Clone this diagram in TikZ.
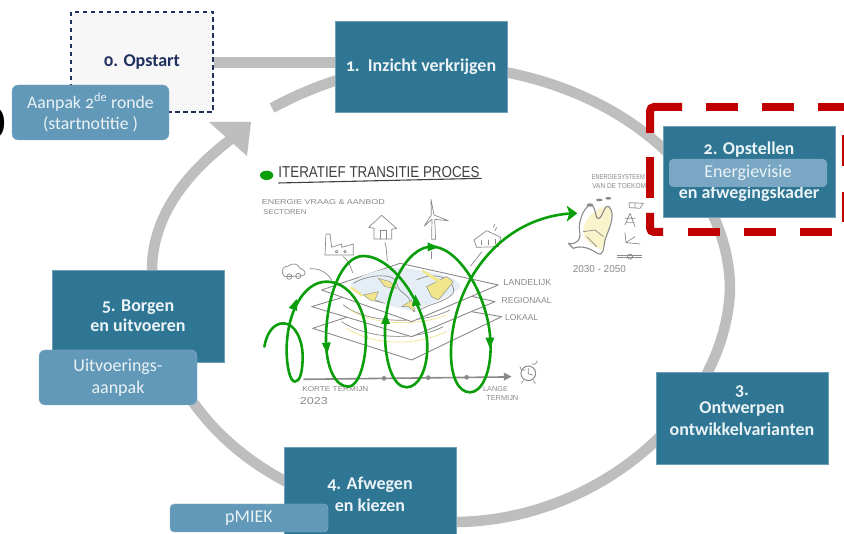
\documentclass[tikz,border=0pt]{standalone}
\usepackage{fontspec}
\usepackage{graphicx}
\setmainfont[Numbers=OldStyle]{Carlito}
\newfontfamily\handf{Liberation Sans}
\definecolor{boxc}{HTML}{2F7694}
\definecolor{pillc}{HTML}{6298B8}
\definecolor{ringc}{HTML}{BEBEBE}
\definecolor{greenc}{HTML}{0A9E0A}
\definecolor{navyc}{HTML}{1F2F5E}
\definecolor{redc}{HTML}{C00000}
\definecolor{sk}{HTML}{8A8A8A}
\definecolor{txtc}{HTML}{EAF3F6}
\definecolor{yel}{HTML}{F2E68C}
\definecolor{bluef}{HTML}{E6EEF5}
\tikzset{
  stepbox/.style={fill=boxc,draw=boxc!70!white,line width=.5pt,text=txtc,font=\fontsize{18}{22}\selectfont\bfseries,align=center,inner sep=0pt},
  pillbox/.style={fill=pillc,draw=pillc!70!white,line width=.4pt,rounded corners=6pt,text=txtc,font=\fontsize{18}{22}\selectfont,align=center,inner sep=0pt},
  ringline/.style={draw=ringc,line width=10.5pt},
  sketch/.style={draw=sk,line width=.7pt,line join=round,line cap=round},
  plane/.style={draw=sk,line width=.9pt,fill=white,line join=round},
  handtext/.style={inner sep=0pt,text=sk,font=\handf},
  spiral/.style={draw=greenc,line width=2.6pt,line cap=round},
  reddash/.style={draw=redc,line width=8pt},
}
\newcommand\htxt[6]{\node[handtext] (#1) at (#2,#3) {\resizebox{#4pt}{#5pt}{#6}};}
\newcommand\gtri[3]{\fill[greenc,shift={(#1,#2)},rotate=#3] (7pt,0pt)--(-4pt,4.5pt)--(-4pt,-4.5pt)--cycle;}
\begin{document}
\begin{tikzpicture}[x=1pt,y=-1pt]
\useasboundingbox (0,0) rectangle (844,534);
\fill[white] (0,0) rectangle (844,534);
% cut-off digit at the left edge
\node[inner sep=0pt,text=black,font=\fontsize{48}{48}\selectfont\addfontfeature{Numbers=Lining}] (zero) at (-6,123) {0};
% ring
\draw[ringline] (272,108) .. controls (320,82) and (375,65) .. (430,65)
  .. controls (596,65) and (730,166) .. (730,290)
  .. controls (725,410) and (600,520) .. (457,522)
  .. controls (300,522) and (152,430) .. (152,270)
  .. controls (152,210) and (195,165) .. (238,134);
\fill[ringc] (251,122) -- (209,122) -- (247,156) -- cycle;
% sketch, coordinates from the enlarged crop
\begin{scope}[shift={(230,140)},x=.3333pt,y=-.3333pt]
  \fill[greenc] (110,106) ellipse (20 and 14);
  \draw[draw=black!75,line width=1.1pt] (145,129) -- (755,115);
  \htxt{title}{447}{97}{201}{11}{\color{black!75}ITERATIEF TRANSITIE PROCES}
  \htxt{tv}{280}{186}{123}{5}{ENERGIE VRAAG \& AANBOD}
  \htxt{ts}{165}{216}{43}{5}{SECTOREN}
  % planes
  \draw[plane] (248,565) -- (510,480) -- (815,530) -- (545,660) -- cycle;
  \draw[sketch,yel] (350,565) .. controls (420,610) and (540,625) .. (650,575);
  \draw[sketch] (335,545) .. controls (400,590) and (540,610) .. (640,560);
  \draw[plane] (245,500) -- (510,420) -- (795,485) -- (545,590) -- cycle;
  \draw[sketch] (340,495) .. controls (400,545) and (560,560) .. (660,510);
  \draw[sketch,yel] (360,510) .. controls (430,555) and (560,560) .. (650,525);
  \draw[plane] (275,450) -- (510,370) -- (805,435) -- (545,545) -- cycle;
  \fill[bluef] (360,430) .. controls (420,385) and (520,375) .. (560,390) .. controls (640,400) and (700,420) .. (690,445) .. controls (620,490) and (560,510) .. (530,510) .. controls (450,490) and (380,470) .. (360,430) -- cycle;
  \draw[sketch] (370,430) .. controls (420,400) and (500,400) .. (500,430) .. controls (510,470) and (540,450) .. (550,515);
  \draw[sketch] (560,420) .. controls (620,390) and (680,420) .. (670,460) .. controls (640,490) and (600,490) .. (570,510);
  \fill[yel,draw=sk,line width=.4pt] (445,415) -- (480,425) -- (500,445) -- (465,440) -- cycle;
  \fill[yel,draw=sk,line width=.4pt] (400,465) -- (445,455) -- (435,480) -- (465,490) -- (420,480) -- cycle;
  \fill[yel] (365,440) -- (400,465) -- (395,470) -- (360,445) -- cycle;
  \fill[yel,draw=sk,line width=.4pt] (590,440) -- (650,410) -- (670,425) -- (650,450) -- (625,480) -- (605,470) -- cycle;
  \fill[yel] (580,390) -- (640,425) -- (630,432) -- (575,395) -- cycle;
  \fill[yel,draw=sk,line width=.4pt] (515,500) -- (545,480) -- (555,515) -- (535,500) -- cycle;
  % labels of the planes
  \htxt{tl}{892}{427}{48}{6}{LANDELIJK}
  \htxt{tr}{890}{482}{50}{6}{REGIONAAL}
  \htxt{tk}{875}{533}{33}{6}{LOKAAL}
  % car
  \draw[sketch] (160,405) .. controls (150,385) and (165,380) .. (175,378) .. controls (185,368) and (205,370) .. (210,385) .. controls (230,392) and (230,405) .. (215,408) -- (165,410) -- cycle;
  \draw[sketch] (178,410) circle (8) (205,408) circle (8);
  \draw[sketch] (240,386) .. controls (265,385) and (290,395) .. (305,420);
  % factory
  \draw[sketch] (285,345) -- (288,282) -- (300,282) -- (305,322) -- (335,312) -- (335,322) -- (370,312) -- (370,345) -- cycle;
  \draw[sketch] (320,335) circle (4) (345,335) circle (4);
  \draw[sketch] (340,350) .. controls (355,360) and (362,380) .. (368,398);
  % house
  \draw[sketch] (416,262) -- (455,226) -- (500,265) -- (485,268) -- (485,297) -- (432,297) -- (432,265) -- cycle;
  \draw[sketch] (452,297) -- (452,272) -- (468,272) -- (468,297);
  \draw[sketch] (465,308) .. controls (470,325) and (470,345) .. (472,362);
  % turbine
  \draw[sketch] (603,178) -- (612,225) -- (655,242) -- (614,238) -- (617,298) -- (605,298) -- (606,238) -- (583,258) -- (604,225) -- cycle;
  \draw[sketch] (603,335) -- (603,356);
  % solar house
  \draw[sketch] (732,300) -- (770,272) -- (812,292) -- (805,320) -- (740,322) -- cycle;
  \draw[sketch] (755,302) -- (755,314) (775,300) -- (775,314) (795,298) -- (795,312);
  \draw[sketch] (795,272) -- (800,262) (790,262) -- (795,252);
  \draw[sketch] (755,336) -- (722,378);
  % time axis
  \draw[draw=sk,line width=1.6pt] (220,718) -- (825,711);
  \fill[sk] (462,715) circle (7) (595,713) circle (7) (710,712) circle (7);
  \fill[sk] (845,710) -- (822,698) -- (822,722) -- cycle;
  \draw[sketch,line width=1pt] (895,700) circle (22);
  \draw[sketch] (895,685) -- (895,702) -- (908,705);
  \draw[sketch] (870,680) arc (180:60:11) (905,672) arc (120:0:11) (880,722) -- (874,730) (910,722) -- (916,730);
  \htxt{tko}{316}{748}{66}{5}{KORTE TERMIJN}
  \htxt{tj}{252}{784}{28}{7}{2023}
  \htxt{tla}{797}{747}{25}{5}{LANGE}
  \htxt{tte}{817}{775}{32}{5}{TERMIJN}
  % spiral
  \draw[spiral] (103,620) .. controls (110,580) and (130,550) .. (160,550)
    .. controls (195,550) and (218,600) .. (218,650)
    .. controls (218,695) and (210,725) .. (195,725)
    .. controls (180,725) and (170,680) .. (170,630)
    .. controls (170,520) and (220,425) .. (290,425)
    .. controls (355,425) and (408,500) .. (408,590)
    .. controls (408,670) and (385,740) .. (355,740)
    .. controls (315,740) and (288,680) .. (288,600)
    .. controls (288,470) and (335,348) .. (400,348)
    .. controls (490,348) and (592,500) .. (592,620)
    .. controls (592,690) and (565,742) .. (530,742)
    .. controls (490,742) and (465,670) .. (465,580)
    .. controls (465,450) and (530,320) .. (605,320)
    .. controls (690,320) and (782,480) .. (782,620)
    .. controls (782,700) and (755,757) .. (720,757)
    .. controls (685,757) and (663,710) .. (663,640)
    .. controls (663,440) and (800,240) .. (1015,221);
  \gtri{193}{497}{70}
  \gtri{290}{620}{-85}
  \gtri{467}{540}{90}
  \gtri{558}{485}{95}
  \gtri{605}{321}{0}
  \gtri{780}{605}{-90}
\end{scope}
% second sketch
\begin{scope}[shift={(540,90)},x=.3333pt,y=-.3333pt]
  \fill[greenc] (112,370) -- (80,347) -- (88,370) -- (80,395) -- cycle;
  \fill[yel!45] (130,430) .. controls (125,380) and (190,340) .. (210,350) .. controls (220,390) and (200,440) .. (185,480) .. controls (160,470) and (130,450) .. (130,430) -- cycle;
  \draw[sketch,line width=1.1pt] (85,460) .. controls (110,465) and (125,450) .. (118,420) .. controls (115,385) and (140,340) .. (155,345) .. controls (170,355) and (165,395) .. (178,385) .. controls (190,375) and (195,340) .. (207,350) .. controls (230,375) and (205,420) .. (195,450) .. controls (190,480) and (190,495) .. (175,492) .. controls (150,475) and (125,465) .. (100,475) -- cycle;
  \draw[sketch] (130,425) -- (165,420) -- (190,440) (140,440) -- (170,470);
  \fill[sk] (150,345) ellipse (10 and 5) (178,330) ellipse (10 and 4) (205,325) ellipse (9 and 4);
  \draw[sketch] (268,338) -- (310,340) -- (300,355) -- (268,353) -- cycle (285,338) -- (285,353);
  \draw[sketch] (270,370) -- (255,405) (270,370) -- (285,410) (255,385) -- (285,385) (260,398) -- (282,398);
  \draw[sketch] (255,428) -- (258,458) -- (300,462) (258,458) -- (285,440);
  \draw[sketch] (232,497) -- (305,497) (232,503) -- (305,503);
  \draw[sketch] (270,500) circle (8);
  \htxt{tes}{235}{262}{53}{5}{ENERGIESYSTEEM}
  \htxt{tvd}{250}{287}{62}{5}{VAN DE TOEKOMST}
  \htxt{tjr}{178}{537}{53}{7}{2030 - 2050}
\end{scope}
% step boxes
\node[fill=black!3,draw=navyc,line width=1.4pt,dash pattern=on 4.5pt off 3.5pt,minimum width=142pt,minimum height=100pt,text=navyc,font=\fontsize{18}{20}\selectfont\bfseries,inner sep=0pt] (box0) at (142,62) {\raisebox{-1.5pt}{0. Opstart}};
\node[stepbox,minimum width=172pt,minimum height=91pt] (box1) at (421,66.5) {\raisebox{-1.5pt}{1.\ \ Inzicht verkrijgen}};
\node[stepbox,minimum width=172pt,minimum height=91pt] (box2) at (749,171.5) {2. Opstellen\\[22pt]en afwegingskader};
\node[stepbox,minimum width=172pt,minimum height=92pt] (box3) at (742,418) {3.\\[-4pt]Ontwerpen\\ontwikkelvarianten\\[-7pt]~};
\node[stepbox,minimum width=172pt,minimum height=94pt] (box4) at (370,494) {4. Afwegen\\en kiezen};
\node[stepbox,minimum width=172pt,minimum height=92pt] (box5) at (138,316) {5. Borgen\\[-2pt]en uitvoeren};
\draw[ringline] (box0.east |- 0,62.5) -- (box1.west |- 0,62.5);
% pills
\node[pillbox,minimum width=157pt,minimum height=55pt,font=\fontsize{17.7}{21}\selectfont] (pill0) at (90.5,112.5) {Aanpak 2\textsuperscript{de} ronde\\(startnotitie )};
\node[pillbox,minimum width=158pt,minimum height=55pt] (pill5) at (118,377.5) {Uitvoerings-\\aanpak};
\node[pillbox,minimum width=158pt,minimum height=28pt,rounded corners=4pt] (pill4) at (249,518) {pMIEK};
\node[pillbox,draw=none,fill=pillc!85!white,minimum width=158pt,minimum height=28pt,rounded corners=4pt] (pill2) at (748,173) {Energievisie};
% red dashed frame
\draw[reddash] (682,107) -- (654,107) arc (270:180:4) -- (650,133);
\draw[reddash] (650,157) -- (650,198);
\draw[reddash] (650,213) -- (650,228) arc (180:90:4) -- (663,232);
\draw[reddash] (688,232) -- (720,232) (744,232) -- (776,232) (800,232) -- (832,232);
\draw[reddash] (706,107) -- (738,107) (762,107) -- (794,107) (818,107) -- (846,107);
\draw[reddash] (846,135) -- (846,166) (846,192) -- (846,222);
\end{tikzpicture}
\end{document}
